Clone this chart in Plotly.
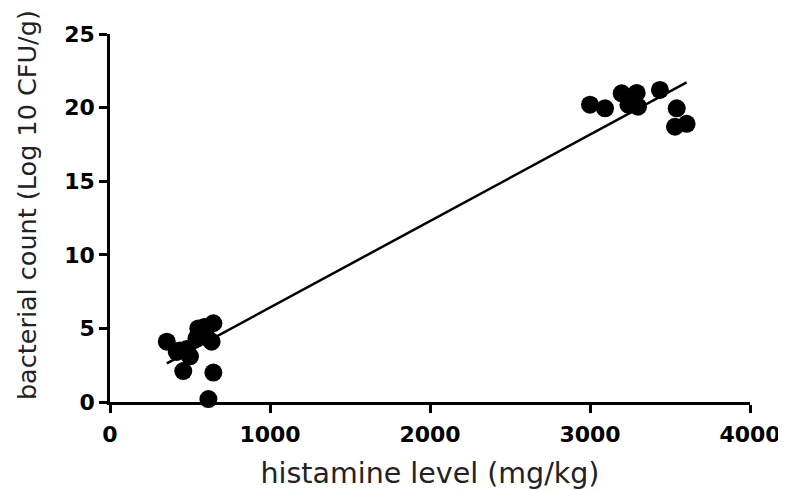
import numpy as np
import plotly.graph_objects as go

# histamine level (mg/kg) and bacterial count (Log 10 CFU/g)
histamine = [355, 417, 437, 458, 500, 480, 552, 604, 646, 635, 646, 615, 540, 590,
             3000, 3094, 3198, 3240, 3270, 3292, 3300, 3437, 3542, 3531, 3604]
bacteria = [4.1, 3.4, 3.5, 2.1, 3.1, 3.6, 5.0, 4.4, 5.35, 4.1, 2.0, 0.2, 4.3, 5.1,
            20.2, 19.95, 20.97, 20.2, 20.6, 21.0, 20.06, 21.2, 19.95, 18.7, 18.9]

x_ticks = [0, 1000, 2000, 3000, 4000]
y_ticks = [0, 5, 10, 15, 20, 25]

slope, intercept = np.polyfit(histamine, bacteria, 1)
xl = np.array([min(histamine), max(histamine)])
yl = slope * xl + intercept

fig = go.Figure()
fig.add_trace(go.Scatter(x=xl, y=yl, mode="lines",
                         line=dict(color="black", width=2.5), showlegend=False))
fig.add_trace(go.Scatter(x=histamine, y=bacteria, mode="markers",
                         marker=dict(color="black", size=18), cliponaxis=False,
                         showlegend=False))

tickfont = dict(family="DejaVu Sans, sans-serif", size=22, color="black", weight="bold")
fig.update_layout(
    width=778, height=482,
    margin=dict(l=102, r=36, t=26, b=88),
    paper_bgcolor="white", plot_bgcolor="white",
    xaxis=dict(range=[0, 4000], tickvals=x_ticks, showgrid=False, zeroline=False,
               showline=True, linecolor="black", linewidth=2.5,
               ticks="outside", ticklen=8, tickwidth=2.5, tickcolor="black",
               tickfont=tickfont, automargin=False, ticklabelstandoff=3,
               title=dict(text="histamine level (mg/kg)", standoff=19,
                          font=dict(family="DejaVu Sans, sans-serif", size=28.5, color="#222"))),
    yaxis=dict(range=[0, 25], tickvals=y_ticks, showgrid=False, zeroline=False,
               showline=True, linecolor="black", linewidth=2.5,
               ticks="outside", ticklen=8, tickwidth=2.5, tickcolor="black",
               tickfont=tickfont, automargin=False),
    annotations=[dict(text="bacterial count (Log 10 CFU/g)", textangle=-90,
                      xref="paper", yref="paper", x=0, y=0.535, xshift=-83,
                      xanchor="center", yanchor="middle", showarrow=False,
                      font=dict(family="DejaVu Sans, sans-serif", size=25.5, color="#222"))],
)
fig.write_html("out.html")
